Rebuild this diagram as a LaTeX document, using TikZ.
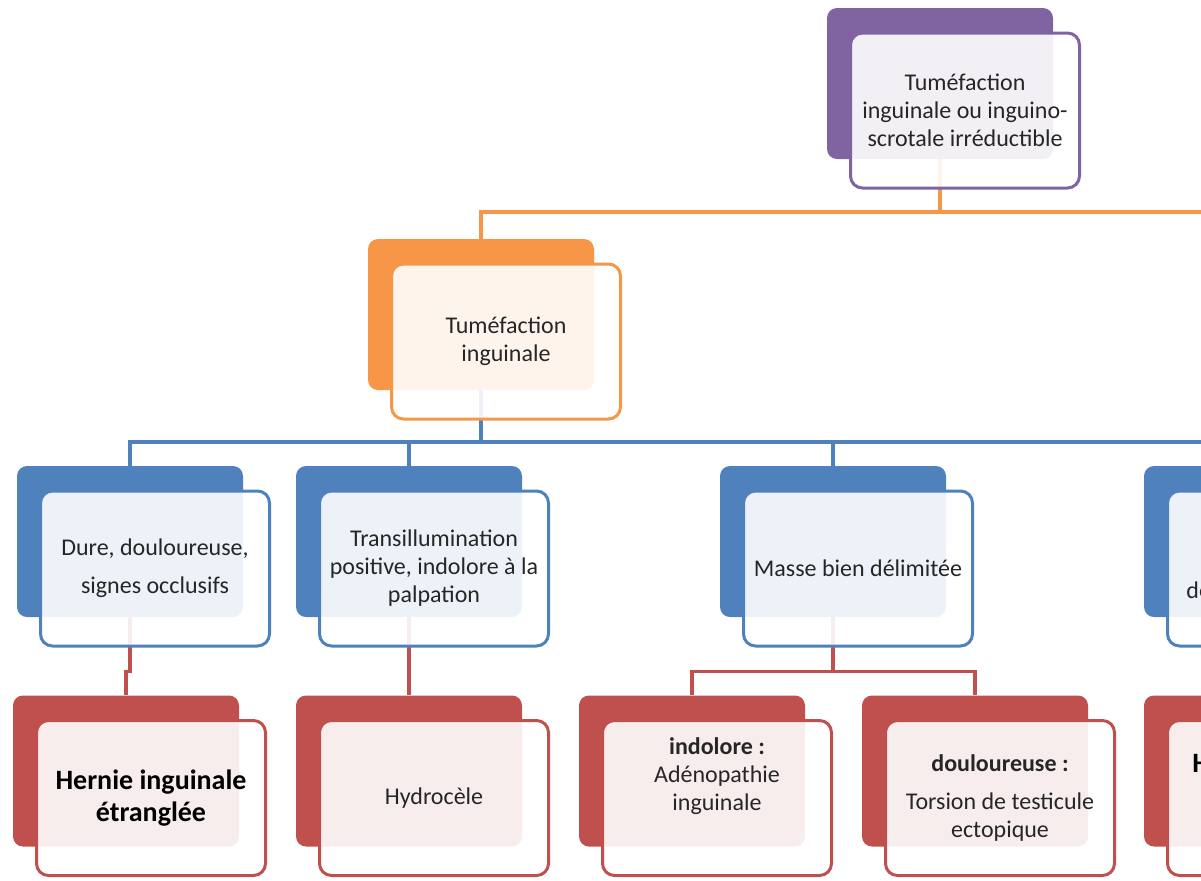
\documentclass[tikz,border=0pt]{standalone}
\usepackage{fontspec}
\setmainfont{Carlito}
\usepackage{tikz}
\usetikzlibrary{calc}
\definecolor{cp}{HTML}{8064A2}
\definecolor{co}{HTML}{F79646}
\definecolor{cb}{HTML}{4F81BD}
\definecolor{cr}{HTML}{C0504D}
\tikzset{bk/.style={minimum width=113pt, minimum height=75.5pt, inner sep=0pt, rounded corners=5pt, fill=#1},
        fr/.style={minimum width=114.5pt, minimum height=77.5pt, inner sep=2pt, rounded corners=6pt, draw=#1, line width=1.5pt, fill=white, fill opacity=0.9, text opacity=1, text=black!85, align=center, font=\fontsize{12}{14}\selectfont, xshift=12.5pt, yshift=-13.5pt},
        ln/.style={draw=#1, line width=1.6pt},
        nb/.style={},
        hb/.style={text=black, font=\bfseries\fontsize{14}{16}\selectfont},
        cut/.style={anchor=base west, inner sep=0pt, text=black!85, font=\fontsize{12}{14}\selectfont}}

\begin{document}
\begin{tikzpicture}[x=0.5pt, y=-0.5pt]
    \useasboundingbox (0,0) rectangle (1201,880);
    \clip (0,0) rectangle (1201,880);

    \node (tp) at (940,83.5) [bk=cp] {};
    \node (or) at (481,314.5) [bk=co] {};
    \foreach \x [count=\i] in {130,409,833,1257} {
        \node (b\i) at (\x,541.5) [bk=cb] {};
    }
    \foreach \x [count=\i] in {126,409,692,975,1257} {
        \node (r\i) at (\x,771) [bk=cr] {};
    }

    % rails between levels
    \coordinate (e1) at (1240,212);
    \coordinate (e2) at (0,442);
    \coordinate (e3) at (0,671.5);
    \draw[ln=co] (tp.south) |- (e1);
    \draw[ln=co] (tp.south) |- (or.north |- e1) -- (or.north);
    \foreach \i in {1,...,4} {
        \draw[ln=cb] (or.south) |- (b\i.north |- e2) -- (b\i.north);
    }
    \foreach \p/\c in {b1/r1,b2/r2,b3/r3,b3/r4} {
        \draw[ln=cr] (\p.south) |- (\c.north |- e3) -- (\c.north);
    }

    \node (tpf) at (tp) [fr=cp] {Tuméfaction\\inguinale ou inguino-\\scrotale irréductible};
    \node (orf) at (or) [fr=co] {Tuméfaction\\inguinale};
    \foreach \i/\t in {1/{Dure, douloureuse,\\[5pt]signes occlusifs},
                       2/{Transillumination\\positive, indolore à la\\palpation},
                       3/{Masse bien délimitée},
                       4/{}} {
        \node (bf\i) at (b\i) [fr=cb] {\t};
    }
    \foreach \i/\s/\t in {1/hb/{Hernie inguinale\\étranglée},
                          2/nb/{Hydrocèle},
                          3/nb/{\textbf{indolore :}\\Adénopathie\\inguinale\\[10pt]\mbox{}},
                          4/nb/{\textbf{douloureuse :}\\[5.5pt]Torsion de testicule\\ectopique},
                          5/nb/{}} {
        \node (rf\i) at (r\i) [fr=cr, \s] {\t};
    }

    \node (bt4) at (1186,598) [cut] {de};
    \node (rt5) at (1192,772) [cut, hb] {H};
\end{tikzpicture}
\end{document}
